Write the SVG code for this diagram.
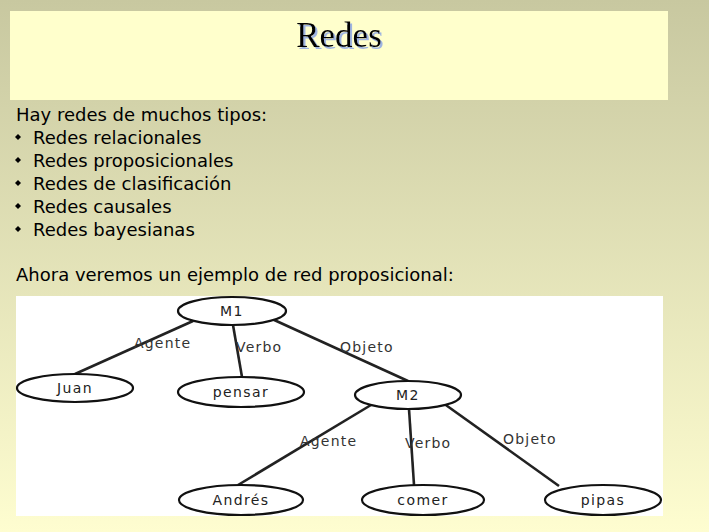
<svg xmlns="http://www.w3.org/2000/svg" width="709" height="532" viewBox="0 0 709 532">
  <defs>
    <linearGradient id="bg" x1="0" y1="0" x2="0" y2="1">
      <stop offset="0" stop-color="#c8c8a0"/>
      <stop offset="1" stop-color="#fefdd0"/>
    </linearGradient>
    <filter id="titleShadow" x="-10%" y="-10%" width="130%" height="130%">
      <feDropShadow dx="2" dy="2" stdDeviation="0.3" flood-color="#9fb4e0" flood-opacity="1"/>
    </filter>
    <style>
      .body { font-family: "DejaVu Sans", Verdana, sans-serif; font-size: 18px; fill: #000; }
      .bullet { fill: #000; }
      .node ellipse { fill: #fff; stroke: #111; stroke-width: 2.2; }
      .node text { font-family: "DejaVu Sans", sans-serif; font-size: 14px; letter-spacing: 1.4px; fill: #222; text-anchor: middle; }
      .edges line { stroke: #222; stroke-width: 2.6; }
      .edges text { font-family: "DejaVu Sans", sans-serif; font-size: 14px; letter-spacing: 1.2px; fill: #333; }
    </style>
  </defs>

  <rect x="0" y="0" width="709" height="532" fill="url(#bg)"/>

  <!-- title band -->
  <rect x="10" y="11" width="658" height="89" fill="#ffffcc"/>
  <text x="339" y="47" font-family="Liberation Serif, serif" font-size="35" fill="#000" text-anchor="middle" filter="url(#titleShadow)">Redes</text>

  <!-- body text -->
  <text class="body" x="16" y="121">Hay redes de muchos tipos:</text>
  <g>
    <path class="bullet" d="M18,134 l3,3 l-3,3 l-3,-3 z"/>
    <path class="bullet" d="M18,157 l3,3 l-3,3 l-3,-3 z"/>
    <path class="bullet" d="M18,180 l3,3 l-3,3 l-3,-3 z"/>
    <path class="bullet" d="M18,203 l3,3 l-3,3 l-3,-3 z"/>
    <path class="bullet" d="M18,226 l3,3 l-3,3 l-3,-3 z"/>
  </g>
  <g class="body">
    <text x="33" y="144">Redes relacionales</text>
    <text x="33" y="167">Redes proposicionales</text>
    <text x="33" y="190">Redes de clasificación</text>
    <text x="33" y="213">Redes causales</text>
    <text x="33" y="236">Redes bayesianas</text>
  </g>
  <text class="body" x="16" y="281">Ahora veremos un ejemplo de red proposicional:</text>

  <!-- diagram panel -->
  <rect x="16" y="296" width="647" height="220" fill="#fff"/>

  <g class="edges">
    <line x1="193" y1="321" x2="75" y2="374"/>
    <text x="134" y="348">Agente</text>
    <line x1="233" y1="325" x2="242" y2="377"/>
    <text x="236" y="352">Verbo</text>
    <line x1="272" y1="319" x2="408" y2="381"/>
    <text x="340" y="352">Objeto</text>
    <line x1="371" y1="405" x2="238" y2="485"/>
    <text x="300" y="446">Agente</text>
    <line x1="409" y1="409" x2="414" y2="485"/>
    <text x="405" y="448">Verbo</text>
    <line x1="443" y1="403" x2="559" y2="486"/>
    <text x="503" y="444">Objeto</text>
  </g>

  <g id="M1" class="node"><ellipse cx="232" cy="311" rx="54" ry="14"/><text x="232" y="316">M1</text></g>
  <g id="Juan" class="node"><ellipse cx="75" cy="388" rx="58" ry="14"/><text x="75" y="393">Juan</text></g>
  <g id="pensar" class="node"><ellipse cx="241" cy="392" rx="63" ry="15"/><text x="241" y="397">pensar</text></g>
  <g id="M2" class="node"><ellipse cx="408" cy="395" rx="53" ry="14"/><text x="408" y="400">M2</text></g>
  <g id="Andres" class="node"><ellipse cx="241" cy="500" rx="62" ry="15"/><text x="241" y="505">Andrés</text></g>
  <g id="comer" class="node"><ellipse cx="423" cy="500" rx="61" ry="15"/><text x="423" y="505">comer</text></g>
  <g id="pipas" class="node"><ellipse cx="603" cy="500" rx="58" ry="15"/><text x="603" y="505">pipas</text></g>
</svg>
